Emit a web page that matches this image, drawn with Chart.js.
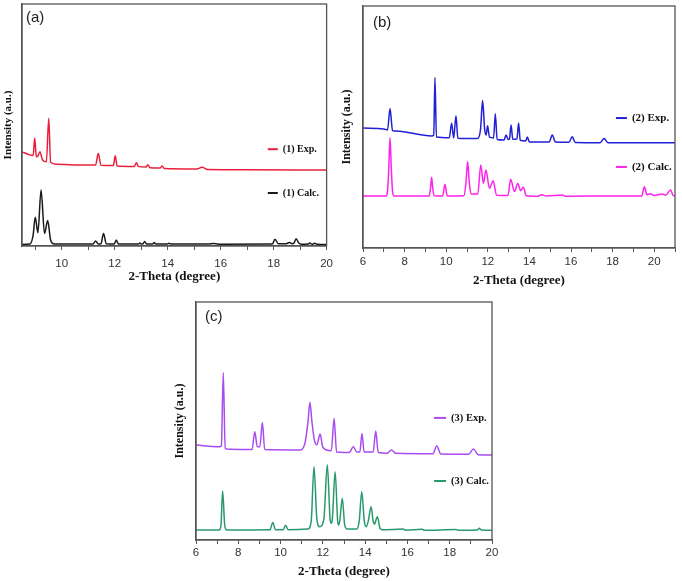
<!DOCTYPE html>
<html>
<head>
<meta charset="utf-8">
<title>PXRD patterns</title>
<script src="https://cdn.jsdelivr.net/npm/chart.js@4.4.1/dist/chart.umd.min.js"></script>
<style>
  body { margin: 0; background: #fff; }
  #wrap { position: relative; width: 682px; height: 581px; overflow: hidden; background: #fff; }
  canvas { position: absolute; }
</style>
</head>
<body>
<div id="wrap">
  <canvas id="chart-a" style="left:0px;top:0px" width="340" height="290"></canvas>
  <canvas id="chart-b" style="left:340px;top:0px" width="342" height="290"></canvas>
  <canvas id="chart-c" style="left:160px;top:290px" width="360" height="291"></canvas>
</div>
<script>
// values (2-theta in degrees, intensity in arbitrary units 0-100 per panel)

// (a) compound 1
const exp1X = [8.5, 8.75, 8.92, 8.98, 9.04, 9.1, 9.18, 9.27, 9.42, 9.51, 9.58, 9.8, 10.5, 11.28, 11.38, 11.48, 11.95, 12.02, 12.09,
  12.74, 12.82, 12.9, 13.18, 13.25, 13.33, 13.72, 13.79, 13.87, 15.1, 15.3, 15.5, 17, 20];
const exp1Y = [38.9, 37.8, 37.4, 44.6, 36.9, 37.2, 38.9, 35.6, 34.8, 52.8, 34.6, 33.8, 33.5, 33.5, 38.3, 33.4, 33.3, 37.3, 33.1,
  32.9, 34.4, 32.8, 32.6, 33.6, 32.3, 32.2, 33.1, 32.0, 31.8, 32.5, 31.6, 31.5, 31.4];
const calc1X = [8.5, 8.8, 8.92, 9.0, 9.1, 9.22, 9.35, 9.47, 9.58, 9.72, 11.18, 11.28, 11.38, 11.48, 11.58, 11.68, 11.98, 12.06, 12.14,
  12.9, 12.95, 13.0, 13.06, 13.13, 13.2, 13.43, 13.49, 13.55, 13.99, 14.05, 14.11, 15.5, 15.75, 16.0, 17.95, 18.05, 18.18,
  18.45, 18.6, 18.7, 18.77, 18.85, 18.95, 19.05, 19.3, 19.37, 19.45, 19.55, 19.65, 20];
const calc1Y = [0.6, 0.8, 4.5, 11.9, 5.5, 23.1, 5.2, 10.5, 2.5, 0.8, 0.8, 2.1, 0.8, 0.9, 5.2, 0.9, 0.8, 2.5, 0.8,
  0.8, 1.2, 0.8, 0.8, 1.9, 0.8, 0.8, 1.4, 0.8, 0.8, 1.1, 0.8, 0.8, 1.0, 0.7, 0.8, 2.8, 0.9,
  0.9, 1.4, 0.9, 1.2, 3.0, 1.2, 0.7, 0.8, 1.2, 0.7, 1.1, 0.7, 0.6];

// (b) compound 2
const exp2X = [6, 7.0, 7.18, 7.3, 7.42, 7.6, 9.3, 9.4, 9.46, 9.53, 10.15, 10.26, 10.36, 10.47, 10.56, 11.5, 11.65, 11.75, 11.85,
  11.92, 11.99, 12.08, 12.28, 12.36, 12.45, 12.78, 12.88, 12.98, 13.04, 13.12, 13.2, 13.4, 13.48, 13.56, 13.82, 13.9, 14.0,
  14.95, 15.1, 15.25, 15.9, 16.06, 16.2, 17.4, 17.59, 17.78, 21];
const exp2Y = [49.6, 49.2, 48.8, 57.6, 48.5, 48.3, 46.3, 46.5, 70.5, 45.9, 45.6, 51.5, 45.5, 54.7, 45.4, 45.2, 49.0, 60.9, 49.0,
  46.7, 50.5, 45.8, 45.5, 55.5, 44.8, 44.6, 46.7, 44.8, 45.0, 50.8, 44.9, 45.0, 51.7, 44.5, 44.2, 45.9, 43.8,
  43.8, 46.7, 43.8, 43.7, 46.0, 43.6, 43.5, 45.2, 43.5, 43.5];
const calc2X = [6, 7.1, 7.18, 7.24, 7.3, 7.36, 7.42, 7.5, 9.18, 9.25, 9.3, 9.35, 9.42, 9.83, 9.94, 10.05, 10.85, 10.95, 11.03,
  11.11, 11.2, 11.52, 11.66, 11.79, 11.91, 12.08, 12.26, 12.42, 12.97, 13.1, 13.28, 13.44, 13.58, 13.71, 13.85, 14.4, 14.6,
  14.8, 15.6, 15.7, 18.5, 19.4, 19.53, 19.65, 19.8, 20.0, 20.4, 20.55, 20.79, 20.9, 21];
const calc2Y = [21.5, 21.5, 23.5, 33.0, 45.6, 33.0, 23.5, 21.5, 21.5, 25.0, 29.2, 25.0, 21.6, 21.5, 26.3, 21.5, 21.6, 27.0, 35.7,
  27.0, 22.3, 22.3, 34.3, 26.7, 32.2, 24.7, 27.8, 21.8, 21.7, 28.4, 23.3, 26.7, 23.7, 25.1, 21.6, 21.4, 22.0,
  21.5, 21.9, 21.4, 21.5, 21.5, 25.3, 22.0, 22.4, 21.7, 22.3, 21.8, 24.0, 21.8, 21.5];

// (c) compound 3
const exp3X = [6, 7.1, 7.2, 7.29, 7.38, 7.6, 8.65, 8.78, 8.9, 9.02, 9.14, 9.25, 10.9, 11.15, 11.3, 11.39, 11.48, 11.6, 11.72,
  11.87, 12.0, 12.4, 12.53, 12.65, 13.25, 13.44, 13.6, 13.75, 13.85, 13.95, 14.38, 14.5, 14.62, 15.05, 15.24, 15.45,
  17.2, 17.39, 17.58, 18.9, 19.12, 19.35, 20];
const exp3Y = [39.9, 39.2, 39.6, 70.3, 38.5, 38.1, 38.0, 45.5, 39.2, 39.2, 49.4, 38.0, 37.8, 40.5, 50.0, 57.9, 50.0, 42.0, 40.0,
  44.5, 39.0, 37.5, 51.1, 37.0, 36.8, 39.2, 37.0, 37.0, 44.8, 37.0, 37.0, 45.8, 36.8, 36.5, 37.8, 36.4,
  36.2, 39.5, 36.1, 36.0, 38.2, 35.8, 35.7];
const calc3X = [6, 7.1, 7.18, 7.26, 7.36, 7.45, 9.5, 9.63, 9.76, 10.12, 10.24, 10.36, 11.3, 11.45, 11.58, 11.72, 11.85, 12.05,
  12.21, 12.34, 12.4, 12.45, 12.58, 12.7, 12.75, 12.8, 12.92, 13.03, 13.15, 13.6, 13.72, 13.84, 13.96, 14.05, 14.15,
  14.28, 14.38, 14.45, 14.5, 14.58, 14.7, 14.8, 15.8, 15.9, 16.7, 16.8, 18.3, 18.4, 19.3, 19.4, 19.5, 20];
const calc3Y = [4.2, 4.2, 6.0, 20.6, 6.0, 4.2, 4.3, 7.4, 4.3, 4.3, 6.2, 4.3, 4.6, 8.0, 30.8, 8.5, 5.6, 9.0,
  31.6, 9.0, 7.0, 9.0, 28.7, 8.0, 6.3, 8.0, 17.5, 6.5, 4.6, 4.6, 8.0, 20.3, 8.0, 5.6, 8.0,
  14.0, 8.0, 6.7, 8.0, 9.8, 5.0, 4.3, 4.6, 4.2, 4.5, 4.1, 4.4, 4.1, 4.2, 4.9, 4.2, 4.1];

const frameColor = '#555';
const serif = '"Liberation Serif", "Times New Roman", serif';
const sans = '"Liberation Sans", Arial, sans-serif';

function pts(xs, ys) {
  return xs.map((x, i) => ({ x: x, y: ys[i] }));
}

// frame, panel letter and the little line legends
const panelDecor = {
  id: 'panelDecor',
  afterDraw(chart, args, opts) {
    const ctx = chart.ctx;
    const a = chart.chartArea;
    const xs = chart.scales.x, ys = chart.scales.y;
    ctx.save();
    ctx.strokeStyle = frameColor;
    ctx.lineWidth = 1.3;
    ctx.strokeRect(a.left, a.top, a.right - a.left, a.bottom - a.top);

    ctx.fillStyle = '#222';
    ctx.font = '15px ' + sans;
    ctx.textAlign = 'left';
    ctx.textBaseline = 'middle';
    ctx.fillText(opts.tag, a.left + opts.tagDx, a.top + opts.tagDy);

    const lx = xs.getPixelForValue(opts.legendX);
    ctx.font = 'bold ' + opts.legendSize + 'px ' + serif;
    chart.data.datasets.forEach((ds, i) => {
      const ly = ys.getPixelForValue(opts.legendY[i]);
      ctx.strokeStyle = ds.borderColor;
      ctx.lineWidth = 2;
      ctx.beginPath();
      ctx.moveTo(lx, ly);
      ctx.lineTo(lx + opts.dash, ly);
      ctx.stroke();
      ctx.fillStyle = '#111';
      ctx.fillText(ds.label, lx + opts.dash + 5, ly);
    });
    ctx.restore();
  }
};

const panels = [
  {
    canvas: 'chart-a', tag: '(a)', tagDx: 4, tagDy: 14, xMin: 8.5, xMax: 20,
    series: [
      { label: '(1) Exp.', xs: exp1X, ys: exp1Y, color: '#e8203c' },
      { label: '(1) Calc.', xs: calc1X, ys: calc1Y, color: '#1a1a1a' }
    ],
    legendX: 17.78, legendY: [40.0, 21.9], dash: 10, legendSize: 10,
    pad: { left: 0, top: 4, right: 13, bottom: 0 }, yWidth: 22, xHeight: 44,
    yTitleSize: 11, yTitlePad: 1.4, xTitlePad: 6, tickPad: 7
  },
  {
    canvas: 'chart-b', tag: '(b)', tagDx: 10, tagDy: 17, xMin: 6, xMax: 21,
    series: [
      { label: '(2) Exp.', xs: exp2X, ys: exp2Y, color: '#2020d4' },
      { label: '(2) Calc.', xs: calc2X, ys: calc2Y, color: '#ff22ea' }
    ],
    legendX: 18.16, legendY: [53.7, 33.5], dash: 11, legendSize: 11,
    pad: { left: 0, top: 6, right: 7, bottom: 0 }, yWidth: 23, xHeight: 42,
    yTitleSize: 12, yTitlePad: 0, xTitlePad: 1.2, tickPad: 3
  },
  {
    canvas: 'chart-c', tag: '(c)', tagDx: 9, tagDy: 15, xMin: 6, xMax: 20,
    series: [
      { label: '(3) Exp.', xs: exp3X, ys: exp3Y, color: '#a84cf2' },
      { label: '(3) Calc.', xs: calc3X, ys: calc3Y, color: '#2a9a6c' }
    ],
    legendX: 17.26, legendY: [51.3, 24.8], dash: 12, legendSize: 10.5,
    pad: { left: 13, top: 12, right: 28, bottom: 0 }, yWidth: 23, xHeight: 41,
    yTitleSize: 12, yTitlePad: 0, xTitlePad: 1.2, tickPad: 2
  }
];

panels.forEach(p => {
  new Chart(document.getElementById(p.canvas), {
    type: 'line',
    data: {
      datasets: p.series.map(s => ({
        label: s.label,
        data: pts(s.xs, s.ys),
        borderColor: s.color,
        borderWidth: 1.5,
        pointRadius: 0,
        cubicInterpolationMode: 'monotone',
        fill: false
      }))
    },
    options: {
      responsive: false,
      animation: false,
      events: [],
      layout: { padding: p.pad },
      plugins: {
        legend: { display: false },
        tooltip: { enabled: false },
        panelDecor: {
          tag: p.tag, tagDx: p.tagDx, tagDy: p.tagDy,
          legendX: p.legendX, legendY: p.legendY, dash: p.dash, legendSize: p.legendSize
        }
      },
      scales: {
        x: {
          type: 'linear',
          min: p.xMin,
          max: p.xMax,
          afterFit: sc => { sc.height = p.xHeight; },
          border: { display: true, color: frameColor, width: 1.3 },
          grid: { display: true, drawOnChartArea: false, drawTicks: true, tickLength: 4, tickColor: frameColor, tickWidth: 1 },
          ticks: {
            stepSize: 1,
            maxTicksLimit: 20,
            includeBounds: false,
            autoSkip: false,
            maxRotation: 0,
            padding: p.tickPad,
            color: '#333',
            font: { family: sans, size: 11.5 },
            callback: v => (Math.abs(v - 2 * Math.round(v / 2)) < 1e-6 ? String(Math.round(v)) : '')
          },
          title: {
            display: true,
            text: '2-Theta (degree)',
            color: '#111',
            font: { family: serif, size: 13, weight: 'bold' },
            padding: { top: 0, bottom: p.xTitlePad }
          }
        },
        y: {
          type: 'linear',
          min: 0,
          max: 100,
          afterFit: sc => { sc.width = p.yWidth; },
          border: { display: true, color: frameColor, width: 1.3 },
          grid: { display: false },
          ticks: { display: false },
          title: {
            display: true,
            text: 'Intensity (a.u.)',
            color: '#111',
            font: { family: serif, size: p.yTitleSize, weight: 'bold' },
            padding: { top: p.yTitlePad, bottom: 0 }
          }
        }
      }
    },
    plugins: [panelDecor]
  });
});
</script>
</body>
</html>
